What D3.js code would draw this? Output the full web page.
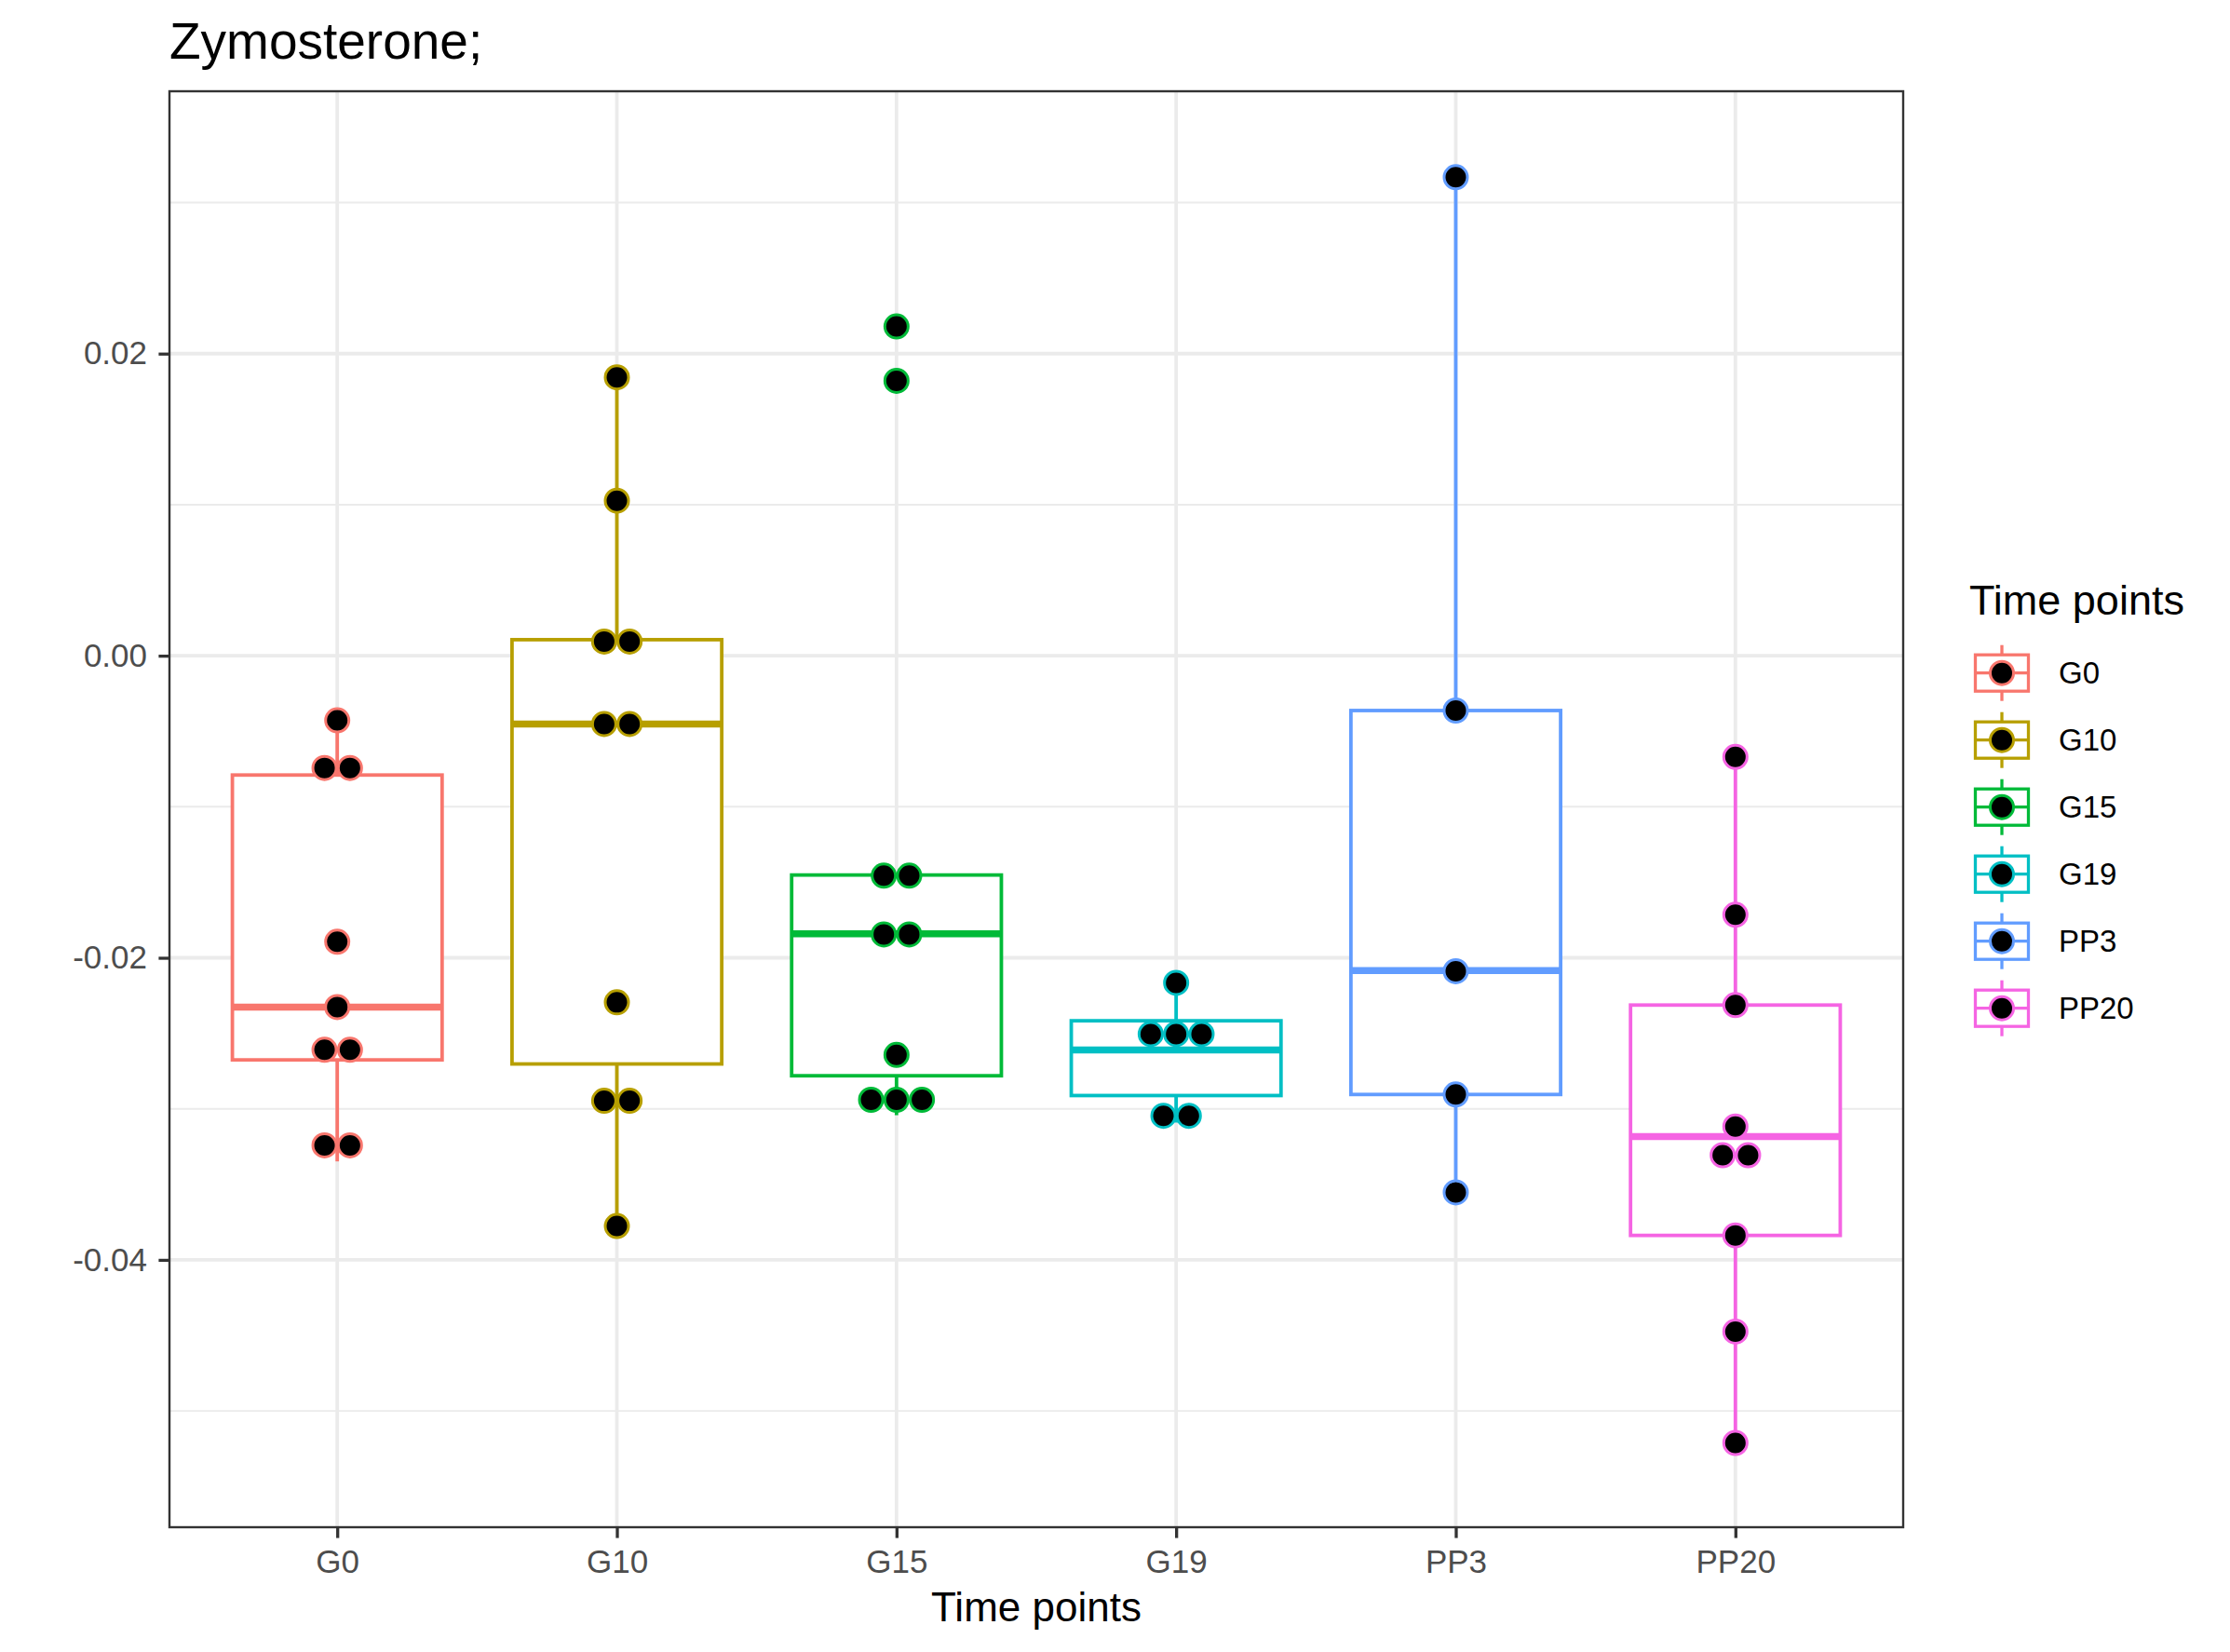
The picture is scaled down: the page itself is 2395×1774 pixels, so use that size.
<!DOCTYPE html>
<html>
<head>
<meta charset="utf-8">
<script src="https://cdn.jsdelivr.net/npm/d3@7"></script>
<style>
  html, body { margin: 0; padding: 0; background: #ffffff; }
  svg { display: block; font-family: "Liberation Sans", Arial, Helvetica, sans-serif; }
</style>
</head>
<body>
<svg id="chart" width="2395" height="1774"></svg>
<script>
// ---------------- data ----------------
const categories = ["G0", "G10", "G15", "G19", "PP3", "PP20"];
const colors = ["#F8766D", "#B79F00", "#00BA38", "#00BFC4", "#619CFF", "#F564E3"];

// dot positions per time point (stacked dots share a value)
const g0Points   = [-0.00428, -0.00743, -0.00743, -0.01894, -0.02326, -0.02609, -0.02609, -0.03242, -0.03242];
const g10Points  = [0.01843, 0.01026, 0.00094, 0.00094, -0.00452, -0.00452, -0.02295, -0.02947, -0.02947, -0.03776];
const g15Points  = [0.02180, 0.01820, -0.01456, -0.01456, -0.01845, -0.01845, -0.02643, -0.02940, -0.02940, -0.02940];
const g19Points  = [-0.02166, -0.02505, -0.02505, -0.02505, -0.03046, -0.03046];
const pp3Points  = [0.03168, -0.00363, -0.02089, -0.02905, -0.03553];
const pp20Points = [-0.00670, -0.01715, -0.02313, -0.03117, -0.03307, -0.03307, -0.03838, -0.04475, -0.05212];

// box statistics: [lower whisker, Q1, median, Q3, upper whisker]
const g0Box   = [-0.03348, -0.02676, -0.02326, -0.00790, -0.00428];
const g10Box  = [-0.03776, -0.02703, -0.00452, 0.00106, 0.01843];
const g15Box  = [-0.03042, -0.02781, -0.01841, -0.01452, -0.01452];
const g19Box  = [-0.03091, -0.02912, -0.02611, -0.02417, -0.02166];
const pp3Box  = [-0.03553, -0.02905, -0.02084, -0.00363, 0.03168];
const pp20Box = [-0.05212, -0.03838, -0.03184, -0.02313, -0.00670];

const yDomain = [-0.0577, 0.03737];
const yMajorTicks = [-0.04, -0.02, 0.00, 0.02];
const yTickLabels = ["-0.04", "-0.02", "0.00", "0.02"];
const yMinorTicks = [-0.05, -0.03, -0.01, 0.01, 0.03];

const titleText = "Zymosterone;";
const xTitleText = "Time points";
const legendTitleText = "Time points";

// ---------------- layout ----------------
const panel = { left: 182, right: 2044, top: 98, bottom: 1640 };
const pointsByGroup = [g0Points, g10Points, g15Points, g19Points, pp3Points, pp20Points];
const boxesByGroup = [g0Box, g10Box, g15Box, g19Box, pp3Box, pp20Box];
const table = categories.map((c, i) => ({
  cat: c, color: colors[i], points: pointsByGroup[i], box: boxesByGroup[i]
}));

const svg = d3.select("#chart");
svg.append("rect").attr("width", 2395).attr("height", 1774).attr("fill", "#ffffff");

const x = d3.scalePoint().domain(categories).range([panel.left, panel.right]).padding(0.6);
const y = d3.scaleLinear().domain(yDomain).range([panel.bottom, panel.top]);
const color = d3.scaleOrdinal().domain(categories).range(colors);
const step = x.step();
const boxW = step * 0.75;

const LINE = 3.8, MEDIAN = 7.5, DOT_R = 12.5, DOT_STROKE = 3, DOT_GAP = 27.3;

// ---------------- grid ----------------
const grid = svg.append("g");
grid.selectAll("line.minor").data(yMinorTicks).join("line")
  .attr("x1", panel.left).attr("x2", panel.right)
  .attr("y1", d => y(d)).attr("y2", d => y(d))
  .attr("stroke", "#EBEBEB").attr("stroke-width", 1.9);
grid.selectAll("line.majory").data(yMajorTicks).join("line")
  .attr("x1", panel.left).attr("x2", panel.right)
  .attr("y1", d => y(d)).attr("y2", d => y(d))
  .attr("stroke", "#EBEBEB").attr("stroke-width", 3.8);
grid.selectAll("line.majorx").data(categories).join("line")
  .attr("x1", d => x(d)).attr("x2", d => x(d))
  .attr("y1", panel.top).attr("y2", panel.bottom)
  .attr("stroke", "#EBEBEB").attr("stroke-width", 3.8);

// ---------------- boxes ----------------
const boxes = svg.append("g").selectAll("g").data(table).join("g");
boxes.append("line") // upper whisker
  .attr("x1", d => x(d.cat)).attr("x2", d => x(d.cat))
  .attr("y1", d => y(d.box[3])).attr("y2", d => y(d.box[4]))
  .attr("stroke", d => color(d.cat)).attr("stroke-width", LINE);
boxes.append("line") // lower whisker
  .attr("x1", d => x(d.cat)).attr("x2", d => x(d.cat))
  .attr("y1", d => y(d.box[1])).attr("y2", d => y(d.box[0]))
  .attr("stroke", d => color(d.cat)).attr("stroke-width", LINE);
boxes.append("rect")
  .attr("x", d => x(d.cat) - boxW / 2).attr("width", boxW)
  .attr("y", d => y(d.box[3])).attr("height", d => y(d.box[1]) - y(d.box[3]))
  .attr("fill", "#ffffff").attr("stroke", d => color(d.cat)).attr("stroke-width", LINE);
boxes.append("line")
  .attr("x1", d => x(d.cat) - boxW / 2).attr("x2", d => x(d.cat) + boxW / 2)
  .attr("y1", d => y(d.box[2])).attr("y2", d => y(d.box[2]))
  .attr("stroke", d => color(d.cat)).attr("stroke-width", MEDIAN);

// ---------------- dots (stacked side by side when equal) ----------------
const dots = [];
table.forEach(t => {
  const groups = d3.group(t.points, v => v);
  groups.forEach((vals, v) => {
    const n = vals.length;
    vals.forEach((_, k) => dots.push({ cat: t.cat, value: v, offset: (k - (n - 1) / 2) * DOT_GAP }));
  });
});
svg.append("g").selectAll("circle").data(dots).join("circle")
  .attr("cx", d => x(d.cat) + d.offset)
  .attr("cy", d => y(d.value))
  .attr("r", DOT_R)
  .attr("fill", "#000000")
  .attr("stroke", d => color(d.cat))
  .attr("stroke-width", DOT_STROKE);

// ---------------- panel border ----------------
svg.append("rect")
  .attr("x", panel.left).attr("y", panel.top)
  .attr("width", panel.right - panel.left).attr("height", panel.bottom - panel.top)
  .attr("fill", "none").attr("stroke", "#333333").attr("stroke-width", 2.4);

// ---------------- axes ----------------
const yAxis = d3.axisLeft(y).tickValues(yMajorTicks)
  .tickFormat((d, i) => yTickLabels[i]).tickSize(11.6).tickPadding(12.4);
const gy = svg.append("g").attr("transform", `translate(${panel.left},0)`).call(yAxis);
gy.select(".domain").remove();
gy.selectAll(".tick line").attr("stroke", "#333333").attr("stroke-width", 3.3);
gy.selectAll(".tick text").attr("fill", "#4D4D4D").attr("font-size", 35)
  .attr("font-family", "Liberation Sans, Arial, sans-serif");

const xAxis = d3.axisBottom(x).tickSize(11.6).tickPadding(12.5);
const gx = svg.append("g").attr("transform", `translate(0,${panel.bottom})`).call(xAxis);
gx.select(".domain").remove();
gx.selectAll(".tick line").attr("stroke", "#333333").attr("stroke-width", 3.3);
gx.selectAll(".tick text").attr("fill", "#4D4D4D").attr("font-size", 35)
  .attr("font-family", "Liberation Sans, Arial, sans-serif");

// ---------------- titles ----------------
svg.append("text").text(titleText)
  .attr("x", panel.left).attr("y", 63)
  .attr("font-size", 55).attr("fill", "#000000");
svg.append("text").text(xTitleText)
  .attr("x", (panel.left + panel.right) / 2).attr("y", 1741)
  .attr("text-anchor", "middle").attr("font-size", 44).attr("fill", "#000000");

// ---------------- legend ----------------
const legend = svg.append("g");
legend.append("text").text(legendTitleText)
  .attr("x", 2115).attr("y", 660).attr("font-size", 45).attr("fill", "#000000");
const keyCx = 2150, keyW = 57, keyH = 39, whisk = 10.5, row0 = 722.7, rowStep = 72;
const keys = legend.selectAll("g.key").data(categories).join("g")
  .attr("transform", (d, i) => `translate(${keyCx},${row0 + i * rowStep})`);
keys.append("line").attr("x1", 0).attr("x2", 0).attr("y1", -keyH / 2 - whisk).attr("y2", keyH / 2 + whisk)
  .attr("stroke", d => color(d)).attr("stroke-width", 3.3);
keys.append("rect").attr("x", -keyW / 2).attr("y", -keyH / 2).attr("width", keyW).attr("height", keyH)
  .attr("fill", "#ffffff").attr("stroke", d => color(d)).attr("stroke-width", 3.3);
keys.append("line").attr("x1", -keyW / 2).attr("x2", keyW / 2).attr("y1", 0).attr("y2", 0)
  .attr("stroke", d => color(d)).attr("stroke-width", 3.3);
keys.append("circle").attr("r", DOT_R).attr("fill", "#000000")
  .attr("stroke", d => color(d)).attr("stroke-width", DOT_STROKE);
keys.append("text").text(d => d)
  .attr("x", 2211 - keyCx).attr("y", 0).attr("dy", "0.35em")
  .attr("font-size", 33).attr("fill", "#000000");
</script>
</body>
</html>
